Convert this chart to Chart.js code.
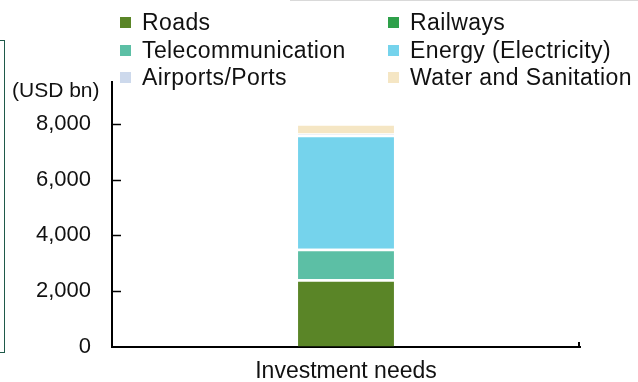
<!DOCTYPE html>
<html>
<head>
<meta charset="utf-8">
<script src="https://cdn.jsdelivr.net/npm/chart.js@4.4.1/dist/chart.umd.min.js"></script>
<style>
  html, body { margin: 0; padding: 0; background: #fff; }
  #wrap { position: relative; width: 638px; height: 382px; overflow: hidden; font-family: "Liberation Sans", Arial, sans-serif; }
  #c { position: absolute; left: 0; top: 0; }
  .leg { position: absolute; font-size: 23px; letter-spacing: 0.4px; color: #111; white-space: nowrap; line-height: 23px; }
  .leg .box { position: absolute; width: 11px; height: 11px; top: 6px; }
  .unit { position: absolute; left: 12px; top: 79px; font-size: 21px; line-height: 22px; color: #111; white-space: nowrap; }
  .frame { position: absolute; left: 0; top: 40px; width: 4px; height: 311px; border: 1.5px solid #1f5a4a; border-left: none; }
  .topline { position: absolute; left: 290px; top: 0; width: 348px; height: 1px; background: #d9d9d9; }
</style>
</head>
<body>
<div id="wrap">
  <canvas id="c" width="638" height="382"></canvas>
  <div class="frame"></div>
  <div class="topline"></div>
  <div class="unit">(USD bn)</div>
  <div id="legend"></div>
</div>
<script>
// ---- data ----
const categories = ["Investment needs"];
const seriesNames = ["Roads", "Railways", "Telecommunication", "Energy (Electricity)", "Airports/Ports", "Water and Sanitation"];
const roads = [2430];
const railways = [0];
const telecommunication = [1090];
const energy = [4090];
const airportsPorts = [40];
const waterSanitation = [370];
const yTickValues = [0, 2000, 4000, 6000, 8000];
const seriesColors = ["#5a8527", "#2ea04a", "#5cbfa5", "#75d3ec", "#cdd9ec", "#f5e6c4"];

const seriesValues = [roads, railways, telecommunication, energy, airportsPorts, waterSanitation];

const datasets = seriesNames.map((name, i) => ({
  label: name,
  data: seriesValues[i],
  backgroundColor: seriesColors[i],
  borderColor: "#ffffff",
  borderWidth: { top: 2.5, left: 0, right: 0, bottom: 0 },
  borderSkipped: "start",
  barPercentage: 0.205,
  categoryPercentage: 1.0
}));

const axisTicksPlugin = {
  id: "axisTicks",
  afterDraw(chart) {
    const ctx = chart.ctx;
    const y = chart.scales.y;
    const x = chart.scales.x;
    ctx.save();
    ctx.strokeStyle = "#000";
    ctx.lineWidth = 1.5;
    y.ticks.forEach(t => {
      if (t.value === 0) return;
      const py = Math.round(y.getPixelForValue(t.value)) + 0.5;
      ctx.beginPath();
      ctx.moveTo(x.left, py);
      ctx.lineTo(x.left + 9, py);
      ctx.stroke();
    });
    ctx.lineWidth = 2;
    ctx.beginPath();
    ctx.moveTo(x.right - 1, y.bottom);
    ctx.lineTo(x.right - 1, y.bottom - 5);
    ctx.stroke();
    ctx.restore();
  }
};

const chart = new Chart(document.getElementById("c"), {
  type: "bar",
  data: { labels: categories, datasets },
  options: {
    responsive: false,
    animation: false,
    devicePixelRatio: 1,
    layout: { padding: { top: 82, right: 58, left: 0, bottom: 0 } },
    plugins: { legend: { display: false }, tooltip: { enabled: false } },
    scales: {
      x: {
        stacked: true,
        grid: { display: true, drawOnChartArea: false, drawTicks: false },
        border: { display: true, color: "#000", width: 2 },
        ticks: { color: "#111", font: { family: "Liberation Sans", size: 23 }, padding: 11 },
        afterFit(scale) { scale.height = 35; }
      },
      y: {
        stacked: true,
        min: 0,
        max: 9500,
        grid: { display: true, drawOnChartArea: false, drawTicks: false },
        border: { display: true, color: "#000", width: 2 },
        ticks: {
          color: "#111",
          font: { family: "Liberation Sans", size: 22 },
          padding: 21,
          callback: v => v.toLocaleString("en-US")
        },
        afterBuildTicks(scale) {
          scale.ticks = yTickValues.map(v => ({ value: v }));
        },
        afterFit(scale) { scale.width = 112; }
      }
    }
  },
  plugins: [axisTicksPlugin]
});

// ---- legend built from chart datasets ----
const legendEl = document.getElementById("legend");
const colX = [120, 388];
const rowY = [11, 38.5, 66];
chart.data.datasets.forEach((ds, i) => {
  const col = i % 2, row = Math.floor(i / 2);
  const item = document.createElement("div");
  item.className = "leg";
  item.style.left = colX[col] + "px";
  item.style.top = rowY[row] + "px";
  item.style.paddingLeft = "22px";
  const box = document.createElement("span");
  box.className = "box";
  box.style.left = "0px";
  box.style.background = ds.backgroundColor;
  item.appendChild(box);
  item.appendChild(document.createTextNode(ds.label));
  legendEl.appendChild(item);
});
</script>
</body>
</html>
